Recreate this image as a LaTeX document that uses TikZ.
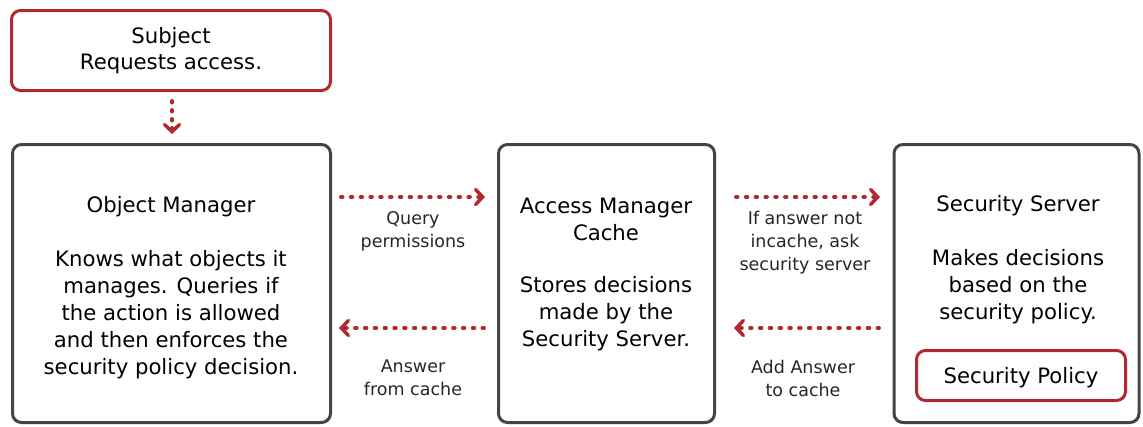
\documentclass[tikz,border=0pt]{standalone}
\usepackage{fontspec}
\setmainfont{DejaVu Sans}
\usetikzlibrary{arrows.meta}
\definecolor{kred}{HTML}{B22830}
\definecolor{kgray}{HTML}{444444}
\tikzset{
  redbox/.style={draw=kred, line width=3pt, rounded corners=9pt, inner sep=0pt},
  graybox/.style={draw=kgray, line width=3pt, rounded corners=9pt, inner sep=0pt},
  maintext/.style={align=center, inner sep=0pt, font=\fontsize{21.2}{27}\selectfont},
  smalltext/.style={align=center, inner sep=0pt, font=\fontsize{17.5}{23}\selectfont, text=black!85},
  dotarrow/.style={draw=kred, line width=4pt, line cap=round, dash pattern=on 1.5pt off 8.3pt,
    -{Straight Barb[length=7pt, width=15pt, line width=3.5pt, line cap=round]}}
}
\begin{document}
\begin{tikzpicture}[x=1pt, y=-1pt]
\useasboundingbox (0,0) rectangle (1143,426);
% boxes
\node[redbox, minimum width=319pt, minimum height=80pt] (subj) at (171,50.5) {};
\node[graybox, minimum width=318pt, minimum height=278pt] (om) at (171.5,283.5) {};
\node[graybox, minimum width=216pt, minimum height=278pt] (amc) at (606.5,283.5) {};
\node[graybox, minimum width=245pt, minimum height=278pt] (ss) at (1016.5,283.5) {};
\node[redbox, minimum width=209pt, minimum height=50pt] (sp) at (1021,375.5) {};
% texts
\node[maintext, font=\fontsize{21.2}{26}\selectfont] (subjt) at (171,51) {Subject\\Requests access.};
\node[maintext] (omt) at (171,207) {Object Manager};
\node[maintext] (omb) at (171,315) {Knows what objects it\\manages. Queries if\\the action is allowed\\and then enforces the\\security policy decision.};
\node[maintext] (amct) at (606,219) {Access Manager\\Cache};
\node[maintext] (amcb) at (606,314) {Stores decisions\\made by the\\Security Server.};
\node[maintext] (sst) at (1018,206) {Security Server};
\node[maintext] (ssb) at (1018,287) {Makes decisions\\based on the\\security policy.};
\node[maintext] (spt) at (1021,378) {Security Policy};
% labels
\node[smalltext] (l1) at (413,231.5) {Query\\permissions};
\node[smalltext] (l2) at (413,378) {Answer\\from cache};
\node[smalltext] (l3) at (805,243) {If answer not\\incache, ask\\security server};
\node[smalltext] (l4) at (803,378) {Add Answer\\to cache};
% arrows
\coordinate (a1s) at (341,197); \coordinate (a1e) at (485,197);
\coordinate (a2s) at (484,328); \coordinate (a2e) at (339,328);
\coordinate (a3s) at (736,197); \coordinate (a3e) at (880,197);
\coordinate (a4s) at (879,328); \coordinate (a4e) at (734,328);
\coordinate (a0s) at (172,101); \coordinate (a0e) at (172,134);
\draw[dotarrow] (a1s) -- (a1e);
\draw[dotarrow] (a2s) -- (a2e);
\draw[dotarrow] (a3s) -- (a3e);
\draw[dotarrow] (a4s) -- (a4e);
\draw[dotarrow, dash pattern=on 1.5pt off 7.5pt] (a0s) -- (a0e);
\end{tikzpicture}
\end{document}
